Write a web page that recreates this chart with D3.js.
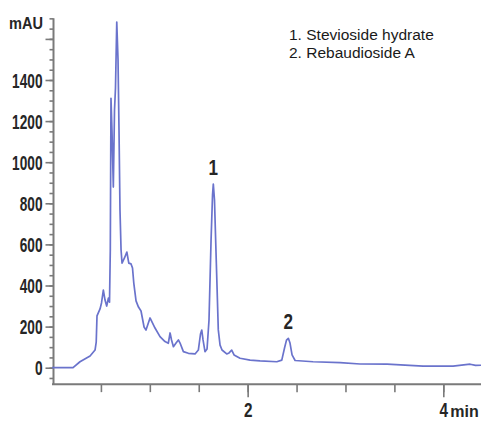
<!DOCTYPE html>
<html>
<head>
<meta charset="utf-8">
<script src="https://cdn.jsdelivr.net/npm/d3@7"></script>
<style>
  html, body { margin: 0; padding: 0; background: #fff; overflow: hidden; }
  svg { display: block; }
</style>
</head>
<body>
<svg id="chart" width="481" height="423"></svg>
<script>
// Retention time (min) and absorbance (mAU)
const timeMin = [0, 0.215, 0.286, 0.389, 0.44, 0.452, 0.46, 0.491, 0.506, 0.525, 0.542, 0.559, 0.577, 0.588,
  0.596, 0.603, 0.613, 0.627, 0.639, 0.649, 0.662, 0.675, 0.685, 0.695, 0.706, 0.716, 0.741, 0.765, 0.785,
  0.808, 0.823, 0.836, 0.859, 0.884, 0.91, 0.941, 0.961, 1.002, 1.053, 1.104, 1.155, 1.189, 1.207, 1.222,
  1.241, 1.268, 1.292, 1.309, 1.343, 1.394, 1.462, 1.496, 1.518, 1.531, 1.544, 1.564, 1.585, 1.605, 1.626,
  1.641, 1.649, 1.661, 1.679, 1.7, 1.718, 1.738, 1.786, 1.81, 1.837, 1.861, 1.922, 2.025, 2.127, 2.298,
  2.349, 2.377, 2.397, 2.416, 2.433, 2.454, 2.485, 2.669, 2.945, 3.149, 3.425, 3.793, 4.1, 4.274, 4.33, 4.39];
const absorbance = [0, 0, 29, 57, 86, 125, 252, 286, 315, 378, 329, 300, 339, 319,
  573, 1311, 1156, 879, 1254, 1361, 1682, 1497, 1156, 767, 573, 509, 534, 563, 509,
  505, 485, 412, 325, 295, 276, 198, 183, 242, 193, 151, 127, 119, 169, 135,
  102, 120, 135, 120, 78, 70, 67, 86, 164, 183, 135, 78, 91, 232, 621,
  840, 894, 816, 524, 184, 110, 86, 67, 72, 86, 62, 46, 37, 33, 29,
  37, 96, 134, 143, 120, 62, 35, 29, 25, 18, 17, 8, 8, 17, 11, 12];

const yMajorTicks = [0, 200, 400, 600, 800, 1000, 1200, 1400, 1600];
const yTickLabels = ["0", "200", "400", "600", "800", "1000", "1200", "1400", ""];
const xMajorTicks = [2, 4];
const xTickLabels = ["2", "4"];
const peakNames = ["1. Stevioside hydrate", "2. Rebaudioside A"];
const peakLabels = ["1", "2"];
const peakTimes = [1.649, 2.416];
const peakHeights = [894, 143];

const svg = d3.select("#chart");
const x = d3.scaleLinear().domain([0, 4]).range([52, 443.3]);
const y = d3.scaleLinear().domain([0, 1400]).range([367.7, 80]);

const axisColor = "#7a7a7a";
const textColor = "#262626";
const fontFam = "'Liberation Sans', Arial, Helvetica, sans-serif";

function condense(sel, perChar) {
  sel.each(function() {
    const t = d3.select(this).text();
    if (t.length) d3.select(this).attr("textLength", t.length * perChar).attr("lengthAdjust", "spacingAndGlyphs");
  });
}

// ---- Y axis ----
const yMinor = svg.append("g").attr("transform", `translate(${x(0) + 1.5},0)`)
  .call(d3.axisLeft(y).tickValues(d3.range(-50, 1701, 50)).tickSize(4).tickFormat(""));
const yMajor = svg.append("g").attr("transform", `translate(${x(0) + 1.5},0)`)
  .call(d3.axisLeft(y).tickValues(yMajorTicks).tickSize(8).tickPadding(3)
    .tickFormat((d, i) => yTickLabels[i]));
[yMinor, yMajor].forEach(g => {
  g.select(".domain").remove();
  g.selectAll("line").attr("stroke", axisColor).attr("stroke-width", 1.6);
});
yMajor.selectAll("text")
  .attr("fill", textColor).style("font-family", fontFam).style("font-size", "21px")
  .style("font-weight", "bold").attr("dy", "0.34em");
condense(yMajor.selectAll("text"), 7.6);

svg.append("line")
  .attr("x1", x(0) + 1.5).attr("x2", x(0) + 1.5)
  .attr("y1", y(1700)).attr("y2", y(-80))
  .attr("stroke", axisColor).attr("stroke-width", 2);

svg.append("text").attr("x", 43).attr("y", 28.5).attr("text-anchor", "end")
  .attr("fill", textColor).style("font-family", fontFam).style("font-size", "16px")
  .style("font-weight", "bold").text("mAU")
  .attr("textLength", 34).attr("lengthAdjust", "spacingAndGlyphs");

// ---- X axis ----
const xAxisY = y(-80);
const xMinor = svg.append("g").attr("transform", `translate(0,${xAxisY})`)
  .call(d3.axisBottom(x).tickValues(d3.range(0.5, 4.01, 0.5)).tickSize(8).tickFormat(""));
const xMajor = svg.append("g").attr("transform", `translate(0,${xAxisY})`)
  .call(d3.axisBottom(x).tickValues(xMajorTicks).tickSize(13).tickPadding(5)
    .tickFormat((d, i) => xTickLabels[i]));
[xMinor, xMajor].forEach(g => {
  g.select(".domain").remove();
  g.selectAll("line").attr("stroke", axisColor).attr("stroke-width", 1.6);
});
xMajor.selectAll("text")
  .attr("fill", textColor).style("font-family", fontFam).style("font-size", "21px")
  .style("font-weight", "bold");
condense(xMajor.selectAll("text"), 8.5);

svg.append("line")
  .attr("x1", x(0)).attr("x2", 481)
  .attr("y1", xAxisY).attr("y2", xAxisY)
  .attr("stroke", axisColor).attr("stroke-width", 2);

svg.append("text").attr("x", x(4) + 7).attr("y", xAxisY + 33)
  .attr("fill", textColor).style("font-family", fontFam).style("font-size", "16px")
  .style("font-weight", "bold").text("min");

// ---- Chromatogram trace ----
const pts = timeMin.map((t, i) => [t, absorbance[i]]);
svg.append("path")
  .datum(pts)
  .attr("fill", "none")
  .attr("stroke", "#6a73cc")
  .attr("stroke-width", 1.7)
  .attr("stroke-linejoin", "round")
  .attr("d", d3.line().x(d => x(d[0])).y(d => y(d[1])));

// ---- Peak labels ----
svg.selectAll(".peaklab").data(peakLabels).join("text")
  .attr("class", "peaklab")
  .attr("x", (d, i) => x(peakTimes[i]))
  .attr("y", (d, i) => y(peakHeights[i]) - 9)
  .attr("text-anchor", "middle")
  .attr("fill", textColor).style("font-family", fontFam).style("font-size", "22px")
  .style("font-weight", "bold")
  .text(d => d)
  .attr("textLength", 9.5).attr("lengthAdjust", "spacingAndGlyphs");

// ---- Legend ----
svg.selectAll(".legend").data(peakNames).join("text")
  .attr("class", "legend")
  .attr("x", 289)
  .attr("y", (d, i) => 40 + i * 17.5)
  .attr("fill", "#1a1a1a").style("font-family", fontFam).style("font-size", "15.5px")
  .text(d => d);
</script>
</body>
</html>
